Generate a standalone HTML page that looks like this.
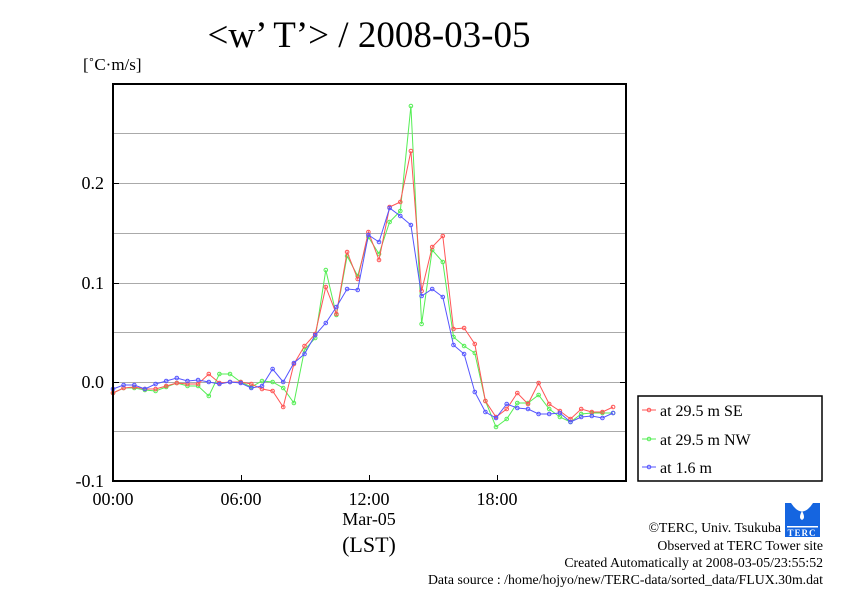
<!DOCTYPE html><html><head><meta charset="utf-8"><style>body{margin:0;background:#fff}svg{display:block}text{font-family:"Liberation Serif",serif}</style></head><body>
<svg id="s" width="842" height="595" xmlns="http://www.w3.org/2000/svg">
<rect width="842" height="595" fill="#fff"/>
<text x="369" y="47" font-size="37" text-anchor="middle">&lt;w’ T’&gt; / 2008-03-05</text>
<text x="83" y="70" font-size="17">[˚C·m/s]</text>
<g stroke="#aaa" stroke-width="1">
<line x1="113" x2="626" y1="133.5" y2="133.5"/><line x1="113" x2="626" y1="183.5" y2="183.5"/><line x1="113" x2="626" y1="233.5" y2="233.5"/><line x1="113" x2="626" y1="283.5" y2="283.5"/><line x1="113" x2="626" y1="332.5" y2="332.5"/><line x1="113" x2="626" y1="382.5" y2="382.5"/><line x1="113" x2="626" y1="431.5" y2="431.5"/>
</g>
<g id="series"></g>
<rect x="113" y="84" width="513" height="397" fill="none" stroke="#000" stroke-width="2"/>
<g stroke="#000" stroke-width="1">
<line x1="113" x2="119" y1="183.5" y2="183.5"/><line x1="113" x2="119" y1="283.5" y2="283.5"/><line x1="113" x2="119" y1="382.5" y2="382.5"/>
<line x1="620" x2="626" y1="183.5" y2="183.5"/><line x1="620" x2="626" y1="283.5" y2="283.5"/><line x1="620" x2="626" y1="382.5" y2="382.5"/>
<line x1="241.5" x2="241.5" y1="475" y2="481"/><line x1="369.5" x2="369.5" y1="475" y2="481"/><line x1="497.5" x2="497.5" y1="475" y2="481"/>
</g>
<g font-size="18" text-anchor="end">
<text x="104" y="189">0.2</text><text x="104" y="289">0.1</text><text x="104" y="388">0.0</text><text x="104" y="487">-0.1</text>
</g>
<g font-size="18" text-anchor="middle">
<text x="113" y="505">00:00</text><text x="241" y="505">06:00</text><text x="369" y="505">12:00</text><text x="497" y="505">18:00</text>
<text x="369" y="525">Mar-05</text><text x="369" y="552" font-size="22">(LST)</text>
</g>
<rect x="638" y="396" width="184" height="85" fill="#fff" stroke="#000" stroke-width="1.5"/>
<g font-size="16">
<line x1="642" x2="656" y1="410" y2="410" stroke="#f55"/><circle cx="649" cy="410" r="1.8" fill="none" stroke="#f55"/><text x="660" y="416">at 29.5 m SE</text>
<line x1="642" x2="656" y1="439" y2="439" stroke="#5e5"/><circle cx="649" cy="439" r="1.8" fill="none" stroke="#5e5"/><text x="660" y="445">at 29.5 m NW</text>
<line x1="642" x2="656" y1="467" y2="467" stroke="#55f"/><circle cx="649" cy="467" r="1.8" fill="none" stroke="#55f"/><text x="660" y="473">at 1.6 m</text>
</g>
<g>
<rect x="785" y="503" width="35" height="34" fill="#1565e0"/>
<path d="M791 503 Q802 520 813 503 Z" fill="#fff"/>
<path d="M802 511 q-4 7 0 9 q4 -2 0 -9z" fill="#fff"/>
<rect x="787" y="526" width="31" height="1.5" fill="#fff"/>
<text x="802" y="536" font-size="9" fill="#fff" text-anchor="middle" font-family="Liberation Sans" font-weight="bold" letter-spacing="1">TERC</text>
</g>
<g font-size="13.8" text-anchor="end">
<text x="781" y="532">©TERC, Univ. Tsukuba</text>
<text x="823" y="550">Observed at TERC Tower site</text>
<text x="823" y="567">Created Automatically at 2008-03-05/23:55:52</text>
<text x="823" y="584">Data source : /home/hojyo/new/TERC-data/sorted_data/FLUX.30m.dat</text>
</g>
<script>
var R=[393,388,387,389,389,386,383,384,384,374,383,382,382,384,389,391,407,364,346,334,287,314,252,279,232,260,207,202,151,291,247,236,329,328,344,401,417,409,393,404,383,404,411,419,409,412,412,407];
var G=[393,388,388,390,391,387,383,386,386,396,374,374,382,387,381,382,388,403,350,338,270,315,256,276,237,254,222,211,106,324,250,262,337,346,353,401,427,419,403,403,395,409,417,422,414,413,413,413];
var B=[389,385,385,389,384,381,378,381,380,382,384,382,383,388,386,369,382,363,354,335,323,307,289,290,235,242,208,216,225,296,289,297,345,354,392,412,418,404,408,409,414,414,413,422,417,416,418,413];
var g=document.getElementById('series'),ns='http://www.w3.org/2000/svg';
[[G,'#5e5'],[R,'#f55'],[B,'#55f']].forEach(function(p){var d='';p[0].forEach(function(y,i){d+=(i?'L':'M')+(113+10.64*i).toFixed(1)+' '+y;});
var pl=document.createElementNS(ns,'path');pl.setAttribute('d',d);pl.setAttribute('fill','none');pl.setAttribute('stroke',p[1]);pl.setAttribute('stroke-width','1');g.appendChild(pl);
p[0].forEach(function(y,i){var c=document.createElementNS(ns,'circle');c.setAttribute('cx',(113+10.64*i).toFixed(1));c.setAttribute('cy',y);c.setAttribute('r','1.8');c.setAttribute('fill','none');c.setAttribute('stroke',p[1]);g.appendChild(c);});});
</script>
</svg>
</body></html>
